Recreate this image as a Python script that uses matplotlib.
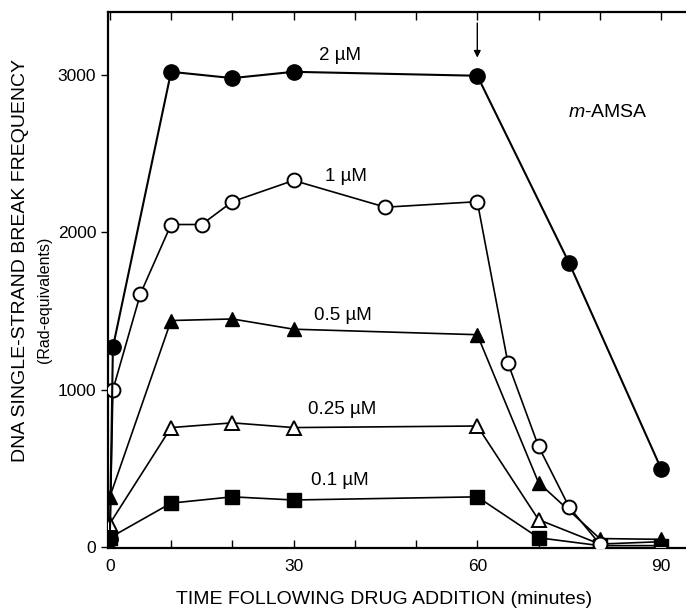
import matplotlib
matplotlib.use("Agg")
import matplotlib.pyplot as plt

plt.rcParams['font.family'] = ['Liberation Sans', 'DejaVu Sans']
plt.rcParams['mathtext.fontset'] = 'custom'
plt.rcParams['mathtext.rm'] = 'Liberation Sans'
plt.rcParams['mathtext.it'] = 'Liberation Sans:italic'

# Data (minutes, rad-equivalents)
t_2uM = [0, 0.5, 10, 20, 30, 60, 75, 90]
y_2uM = [50, 1270, 3020, 2980, 3020, 2995, 1805, 500]

t_1uM = [0, 0.5, 5, 10, 15, 20, 30, 45, 60, 65, 70, 75, 80]
y_1uM = [50, 1000, 1610, 2050, 2050, 2195, 2330, 2160, 2195, 1170, 640, 255, 20]

t_05uM = [0, 10, 20, 30, 60, 70, 80, 90]
y_05uM = [320, 1440, 1450, 1385, 1350, 410, 55, 50]

t_025uM = [0, 10, 20, 30, 60, 70, 80, 90]
y_025uM = [150, 760, 790, 760, 770, 175, 20, 35]

t_01uM = [0, 10, 20, 30, 60, 70, 80, 90]
y_01uM = [60, 280, 320, 300, 320, 60, 10, 10]

labels = ["2 µM", "1 µM", "0.5 µM", "0.25 µM", "0.1 µM"]
label_x = [37.6, 38.6, 38.1, 37.9, 37.6]
label_y = [3125, 2357, 1470, 873, 425]

xticks = [0, 30, 60, 90]
yticks = [0, 1000, 2000, 3000]

fig = plt.figure(figsize=(6.86, 6.15), dpi=100)
ax = fig.add_axes([108/686, 1 - 548/615, 1 - 108/686 + 0.002, (548 - 12)/615])

ax.plot(t_01uM, y_01uM, '-', color='black', lw=1.2, marker='s', ms=10,
        mfc='black', mec='black', zorder=3)
ax.plot(t_025uM, y_025uM, '-', color='black', lw=1.2, marker='^', ms=10,
        mfc='white', mec='black', mew=1.4, zorder=3)
ax.plot(t_05uM, y_05uM, '-', color='black', lw=1.2, marker='^', ms=10,
        mfc='black', mec='black', zorder=3)
ax.plot(t_1uM, y_1uM, '-', color='black', lw=1.2, marker='o', ms=10,
        mfc='white', mec='black', mew=1.4, zorder=3)
ax.plot(t_2uM, y_2uM, '-', color='black', lw=1.5, marker='o', ms=11,
        mfc='black', mec='black', zorder=3)

for lab, lx, ly in zip(labels, label_x, label_y):
    ax.text(lx, ly, lab, ha='center', va='center', fontsize=13.5)

ax.text(81.4, 2764, r"$\it{m}$-AMSA", ha='center', va='center', fontsize=14)

ax.annotate('', xy=(60, 3110), xytext=(60, 3330),
            arrowprops=dict(arrowstyle='-|>', color='black', lw=1.0,
                            mutation_scale=10, shrinkA=0, shrinkB=0))

ax.set_xlim(-0.3, 94.3)
ax.set_ylim(-5, 3400)
ax.set_xticks(xticks)
ax.set_xticks(range(0, 91, 10), minor=True)
ax.set_yticks(yticks)
ax.tick_params(axis='x', which='both', direction='in', top=True, bottom=True,
               length=6, width=1.0, labelsize=12.5, pad=8)
ax.tick_params(axis='x', which='minor', length=6)
ax.tick_params(axis='y', which='both', direction='out', left=True, right=True,
               length=5, width=1.0, labelsize=12.5)
for s in ['left', 'bottom', 'top']:
    ax.spines[s].set_linewidth(1.6)
ax.spines['right'].set_visible(False)

fig.text(21/686, 1 - 260/615, "DNA SINGLE-STRAND BREAK FREQUENCY",
         rotation=90, ha='center', va='center', fontsize=14)
fig.text(45/686, 1 - 300/615, "(Rad-equivalents)",
         rotation=90, ha='center', va='center', fontsize=11.5)
fig.text(384/686, 1 - 600/615, "TIME FOLLOWING DRUG ADDITION (minutes)",
         ha='center', va='center', fontsize=14)

fig.savefig("out.png", dpi=100)
